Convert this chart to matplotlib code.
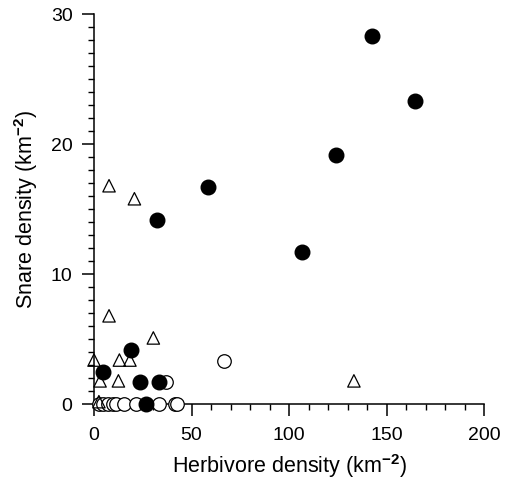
import matplotlib
matplotlib.use('Agg')
import matplotlib.pyplot as plt
from matplotlib.ticker import MultipleLocator

plt.rcParams['font.family'] = ['Liberation Sans', 'DejaVu Sans']
plt.rcParams['mathtext.fontset'] = 'custom'
plt.rcParams['mathtext.rm'] = 'Liberation Sans'
plt.rcParams['mathtext.bf'] = 'Liberation Sans:bold'

# Filled circles
filled_x = [142.3, 164.5, 123.8, 58.2, 32.4, 106.4, 19.2, 4.8, 23.6, 33.5, 26.6]
filled_y = [28.3, 23.3, 19.2, 16.7, 14.2, 11.7, 4.2, 2.5, 1.7, 1.7, 0.0]

# Open circles
open_x = [66.6, 36.7, 2.6, 4.8, 7.0, 9.5, 11.5, 15.5, 21.5, 33.5, 41.5, 42.3]
open_y = [3.3, 1.7, 0.0, 0.0, 0.0, 0.0, 0.0, 0.0, 0.0, 0.0, 0.0, 0.0]

# Open triangles
tri_x = [7.7, 20.7, 7.7, 30.4, 0.0, 13.0, 18.4, 3.1, 12.5, 133.2, 2.5]
tri_y = [16.8, 15.8, 6.8, 5.1, 3.4, 3.4, 3.4, 1.8, 1.8, 1.8, 0.2]

fig = plt.figure(figsize=(5.06, 4.84), dpi=100)
ax = fig.add_axes([0.1858, 0.1647, 0.957 - 0.1858, 0.971 - 0.1647])

ax.scatter(open_x, open_y, s=95, facecolors='white', edgecolors='black',
           linewidths=0.9, clip_on=False, zorder=3)
ax.scatter(tri_x, tri_y, s=80, marker='^', facecolors='none', edgecolors='black',
           linewidths=0.9, clip_on=False, zorder=3)
ax.scatter(filled_x, filled_y, s=110, color='black', clip_on=False, zorder=4)

ax.set_xlim(0, 200)
ax.set_ylim(0, 30)
ax.xaxis.set_major_locator(MultipleLocator(50))
ax.xaxis.set_minor_locator(MultipleLocator(10))
ax.yaxis.set_major_locator(MultipleLocator(10))
ax.yaxis.set_minor_locator(MultipleLocator(1))

for side in ['top', 'right']:
    ax.spines[side].set_visible(False)
for side in ['left', 'bottom']:
    ax.spines[side].set_linewidth(1.1)

ax.tick_params(which='major', direction='out', length=8.5, width=1.1,
               labelsize=14)
ax.tick_params(axis='x', which='major', pad=7.5)
ax.tick_params(axis='y', which='major', pad=7)
ax.tick_params(which='minor', direction='out', length=4.3, width=1.0)

ax.set_xlabel(r'Herbivore density (km$^{\mathbf{-2}}$)', fontsize=15.5, labelpad=6)
ax.set_ylabel(r'Snare density (km$^{\mathbf{-2}}$)', fontsize=15.5, labelpad=7.5)

fig.savefig('out.png', dpi=100)
